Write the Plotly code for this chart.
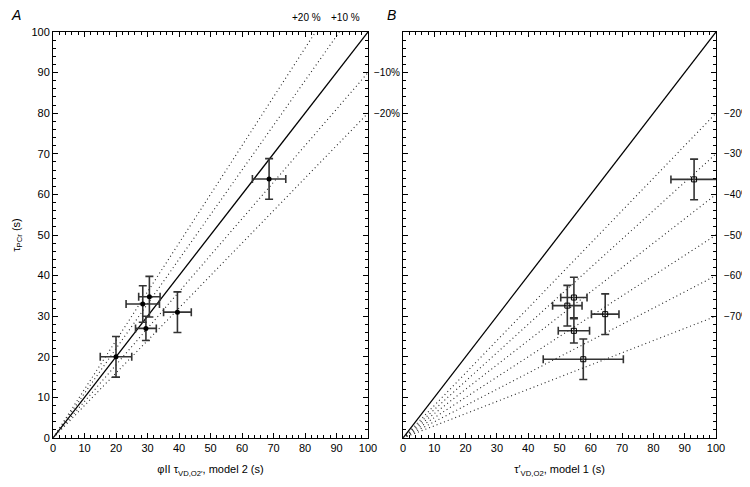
import plotly.graph_objects as go

# Panel A data: phi II tau (model 2) vs tau PCr
a_x = [20.0, 29.5, 28.5, 30.6, 39.5, 68.6]
a_y = [20.0, 27.0, 33.0, 34.8, 31.0, 63.8]
a_xerr = [5.0, 3.3, 5.3, 3.4, 4.4, 5.3]
a_yerr = [5.0, 3.0, 4.5, 5.0, 5.0, 5.0]

# Panel B data: tau' (model 1) vs tau PCr
b_x = [54.6, 52.5, 64.6, 54.6, 57.6, 93.0]
b_y = [34.6, 32.6, 30.5, 26.4, 19.4, 63.7]
b_xerr = [4.2, 4.7, 4.4, 5.0, 12.8, 7.4]
b_yerr = [5.0, 5.0, 5.0, 3.0, 5.0, 5.0]

# Reference line slopes (identity +/- percentages)
a_pct = [20, 10, -10, -20]
b_pct = [-20, -30, -40, -50, -60, -70]

FONT = "Liberation Sans, Arial, sans-serif"
fig = go.Figure()

def ref_line(pct, xa, ya):
    s = 1 + pct / 100.0
    xe = min(100.0, 100.0 / s)
    fig.add_trace(go.Scatter(x=[0, xe], y=[0, s * xe], mode="lines", xaxis=xa, yaxis=ya,
                             line=dict(color="#222", width=1.1, dash="1px,3px"),
                             showlegend=False, hoverinfo="skip"))

for xa, ya in (("x", "y"), ("x2", "y2")):
    fig.add_trace(go.Scatter(x=[0, 100], y=[0, 100], mode="lines", xaxis=xa, yaxis=ya,
                             line=dict(color="black", width=1.3), showlegend=False))
for p in a_pct:
    ref_line(p, "x", "y")
for p in b_pct:
    ref_line(p, "x2", "y2")

fig.add_trace(go.Scatter(
    x=a_x, y=a_y, mode="markers", xaxis="x", yaxis="y", showlegend=False,
    marker=dict(symbol="circle", size=5, color="black"),
    error_x=dict(type="data", array=a_xerr, color="#333", thickness=1.6, width=4),
    error_y=dict(type="data", array=a_yerr, color="#333", thickness=1.6, width=4)))
fig.add_trace(go.Scatter(
    x=b_x, y=b_y, mode="markers", xaxis="x2", yaxis="y2", showlegend=False,
    marker=dict(symbol="square-open", size=5, color="black", line=dict(width=1)),
    error_x=dict(type="data", array=b_xerr, color="#333", thickness=1.6, width=4),
    error_y=dict(type="data", array=b_yerr, color="#333", thickness=1.6, width=4)))

ax = dict(range=[0, 100], dtick=10, showgrid=False, zeroline=False, automargin=False,
          showline=True, linecolor="black", linewidth=1, mirror="allticks",
          ticks="inside", ticklen=5, tickcolor="black", tickwidth=1,
          tickfont=dict(family=FONT, size=11, color="black"),
          minor=dict(dtick=2, ticks="inside", ticklen=3, tickcolor="black", tickwidth=1))

# page body has an 8px margin; figure is offset accordingly
OFF = 8
W, H = 750, 487 - OFF
ML, MT = 53 - OFF, 32 - OFF
MB = H - (438 - OFF)
MR = W - (716 - OFF)
PW, PH = W - ML - MR, H - MT - MB

def px_x(p):
    return (p - OFF - ML) / PW

def px_y(p):
    return (H - MB - (p - OFF)) / PH

fig.update_layout(
    width=W, height=H, margin=dict(l=ML, r=MR, t=MT, b=MB),
    paper_bgcolor="white", plot_bgcolor="white",
    xaxis=dict(ax, domain=[0, px_x(368)], anchor="y",
               title=dict(text="φII τ<sub>VD,O2′</sub>, model 2 (s)",
                          font=dict(family=FONT, size=11, color="black"), standoff=12)),
    yaxis=dict(ax, domain=[0, 1], anchor="x",
               title=dict(text="τ<sub>PCr</sub> (s)",
                          font=dict(family=FONT, size=11, color="black"), standoff=8)),
    xaxis2=dict(ax, domain=[px_x(403), 1], anchor="y2",
                title=dict(text="τ′<sub>VD,O2</sub>, model 1 (s)",
                           font=dict(family=FONT, size=11, color="black"), standoff=12)),
    yaxis2=dict(ax, domain=[0, 1], anchor="x2", showticklabels=False),
)

def add_text(text, xp, yp, anchor="center", size=10):
    fig.add_annotation(text=text, x=px_x(xp), y=px_y(yp), xref="paper", yref="paper",
                       showarrow=False, xanchor=anchor, yanchor="middle",
                       font=dict(family=FONT, size=size, color="black"))

add_text("<i>A</i>", 16, 15, size=14)
add_text("<i>B</i>", 391, 15, size=14)
add_text("+20 %", 306, 18)
add_text("+10 %", 345, 18)
for p in a_pct:
    s = 1 + p / 100.0
    if s < 1:
        add_text("−%d%%" % abs(p), 372, 438 - 4.06 * 100 * s, anchor="left")
for p in b_pct:
    s = 1 + p / 100.0
    add_text("−%d%%" % abs(p), 722, 438 - 4.06 * 100 * s, anchor="left")

fig.write_html("out.html")
